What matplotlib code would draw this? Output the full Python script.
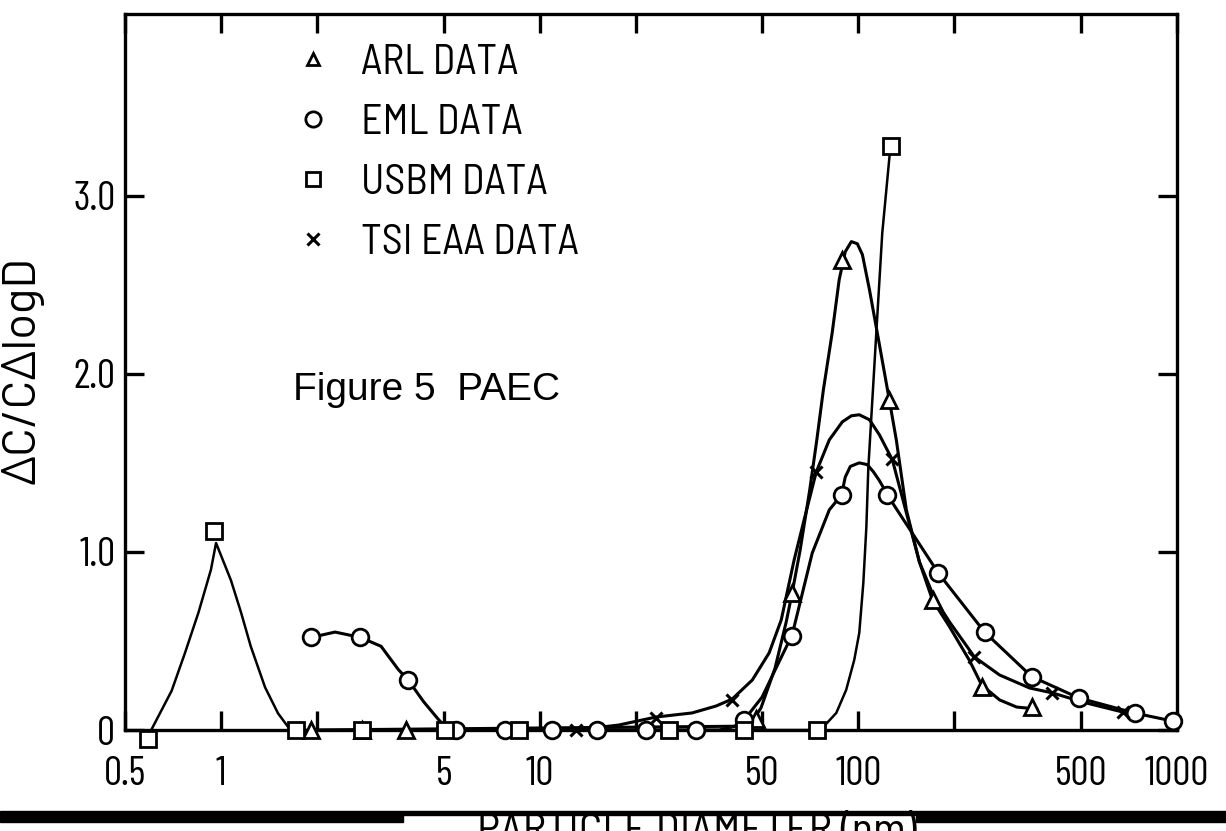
import matplotlib
matplotlib.use("Agg")
import matplotlib.pyplot as plt
from matplotlib.lines import Line2D
from matplotlib.patches import Rectangle
from matplotlib.ticker import NullFormatter

# --- measured points (particle diameter in nm, dC/C/dlogD) ---
arl_d = [1.92, 2.77, 3.8, 47.6, 62, 88.9, 125, 171, 244, 352]
arl_v = [0, 0, 0, 0.06, 0.77, 2.64, 1.85, 0.73, 0.24, 0.13]

eml_d = [1.92, 2.74, 3.87, 5.48, 7.8, 10.9, 15.1, 21.6, 31, 43.8,
         62, 88.6, 123.3, 178.5, 249, 350, 492, 738, 971]
eml_v = [0.52, 0.52, 0.28, 0, 0, 0, 0, 0, 0, 0.056,
         0.53, 1.32, 1.32, 0.88, 0.55, 0.30, 0.18, 0.095, 0.05]

usbm_d = [0.59, 0.95, 1.72, 2.77, 5.06, 8.6, 25.5, 43.8, 74, 126.2]
usbm_v = [-0.05, 1.12, 0, 0, 0, 0, 0, 0, 0, 3.28]

tsi_d = [13.0, 23.2, 40.2, 73.8, 128, 231, 405, 675]
tsi_v = [0, 0.07, 0.17, 1.45, 1.52, 0.41, 0.21, 0.10]

# --- hand-drawn curves ---
arl_curve_d = [1.92, 45.4, 49.5, 54.8, 59.4, 62.0, 65.7, 70.4, 74.1, 77.7,
               82.8, 87.1, 91.0, 95.1, 99.3, 103.0, 108.4, 116.5, 125.1,
               131.6, 141.5, 155.5, 170.9, 193.3, 223.4, 243.8, 277.6,
               314.0, 362.9]
arl_curve_v = [0, 0.022, 0.124, 0.348, 0.607, 0.770, 1.011, 1.348, 1.629,
               1.910, 2.230, 2.528, 2.685, 2.742, 2.730, 2.669, 2.472, 2.163,
               1.854, 1.629, 1.236, 0.944, 0.730, 0.58, 0.39, 0.253, 0.169,
               0.129, 0.118]

eml_curve_d = [1.92, 2.28, 2.74, 3.18, 3.6, 3.87, 4.32, 4.81, 5.17, 36.6,
               40.8, 43.8, 49.9, 55.6, 62.0, 71.7, 81.1, 88.6, 91.0, 94.4,
               100.7, 106.7, 111.5, 116.5, 121.8, 123.3, 178.5, 249, 350,
               492, 738, 971]
eml_curve_v = [0.52, 0.55, 0.52, 0.47, 0.34, 0.28, 0.16, 0.06, 0, 0,
               0.02, 0.056, 0.185, 0.36, 0.534, 0.994, 1.236, 1.32, 1.42,
               1.48, 1.50, 1.49, 1.45, 1.40, 1.34, 1.32, 0.88, 0.55, 0.30,
               0.18, 0.095, 0.05]

usbm_curve_d = [0.6, 0.70, 0.77, 0.85, 0.93, 0.965, 1.075, 1.156, 1.24,
                1.375, 1.51, 1.62, 1.72, 74, 77.1, 85.3, 91.6, 97.1, 100.7,
                103.7, 106.0, 107.5, 109.9, 113.9, 118.9, 126.2]
usbm_curve_v = [-0.01, 0.22, 0.43, 0.66, 0.90, 1.05, 0.84, 0.66, 0.47,
                0.24, 0.094, 0.02, 0, 0, 0.011, 0.096, 0.225, 0.393, 0.545,
                0.826, 1.14, 1.47, 1.76, 2.23, 2.79, 3.28]

tsi_curve_d = [13.0, 17.7, 23.2, 30.1, 35.8, 40.2, 46.5, 52.5, 57.3, 62.9,
               67.6, 73.8, 81.1, 89.1, 95.1, 100.7, 108.4, 116.5, 127.9,
               141.5, 155.5, 173.4, 193.3, 231.5, 277.6, 344.8, 407.4, 506,
               676, 765]
tsi_curve_v = [0, 0.028, 0.073, 0.096, 0.135, 0.174, 0.281, 0.433, 0.618,
               0.955, 1.18, 1.449, 1.629, 1.73, 1.764, 1.770, 1.742, 1.657,
               1.517, 1.22, 0.944, 0.74, 0.607, 0.41, 0.309, 0.236, 0.208,
               0.157, 0.101, 0.084]

x_ticks = [0.5, 1, 5, 10, 50, 100, 500, 1000]
x_tick_labels = ["0.5", "1", "5", "10", "50", "100", "500", "1000"]
x_minor_ticks = [2, 20, 200]
y_ticks = [0, 1, 2, 3]
y_tick_labels = ["0", "1.0", "2.0", "3.0"]

legend_labels = ["ARL DATA", "EML DATA", "USBM DATA", "TSI EAA DATA"]

# old typewriter-ish lettering -> condensed DIN-like face, falls back if missing
COND = ["Barlow Condensed", "Roboto Condensed", "DejaVu Sans"]
SEMI = ["Barlow Semi Condensed", "Barlow Condensed", "DejaVu Sans"]
WIDE = ["Barlow", "Barlow Semi Condensed", "DejaVu Sans"]
PLAIN = ["Liberation Sans", "DejaVu Sans"]


def main():
    plt.rcParams["font.family"] = COND

    fig = plt.figure(figsize=(12.26, 8.31), dpi=100)
    ax = fig.add_axes([0.102, 0.1215, 0.858, 0.8617])
    ax.set_xscale("log")
    ax.set_xlim(0.5, 1000)
    ax.set_ylim(0, 4.02)

    # curves
    ax.plot(arl_curve_d, arl_curve_v, color="black", linewidth=2.2)
    ax.plot(eml_curve_d, eml_curve_v, color="black", linewidth=2.2)
    ax.plot(tsi_curve_d, tsi_curve_v, color="black", linewidth=2.2)
    ax.plot(usbm_curve_d, usbm_curve_v, color="black", linewidth=1.8,
            clip_on=False)

    # markers
    mk = dict(linestyle="none", markerfacecolor="white",
              markeredgecolor="black", markeredgewidth=2, clip_on=False,
              zorder=3)
    ax.plot(arl_d, arl_v, marker="^", markersize=11, **mk)
    ax.plot(eml_d, eml_v, marker="o", markersize=12, **mk)
    ax.plot(usbm_d, usbm_v, marker="s", markersize=11, **mk)
    ax.plot(tsi_d, tsi_v, marker="x", markersize=9, color="black",
            markeredgewidth=2.2, linestyle="none", clip_on=False, zorder=3)

    # axes styling
    for sp in ax.spines.values():
        sp.set_linewidth(2.4)
    ax.set_xticks(x_ticks)
    ax.set_xticklabels(x_tick_labels)
    ax.set_xticks(x_minor_ticks, minor=True)
    ax.xaxis.set_minor_formatter(NullFormatter())
    ax.set_yticks(y_ticks)
    ax.set_yticklabels(y_tick_labels)
    ax.tick_params(axis="both", which="both", direction="in", length=14,
                   width=2.4, top=True, right=True, labelsize=29)
    ax.tick_params(axis="x", which="both", pad=19)
    ax.tick_params(axis="y", pad=7)

    ax.set_ylabel("\u0394C/C\u0394logD", fontsize=34, family=WIDE)
    ax.yaxis.set_label_coords(-0.078, 0.503)

    ax.text(0.16, 0.461, "Figure 5  PAEC", transform=ax.transAxes,
            fontsize=28, va="baseline", family=PLAIN)

    handles = [
        Line2D([], [], ls="none", marker="^", ms=9, mfc="white", mec="black", mew=2),
        Line2D([], [], ls="none", marker="o", ms=11, mfc="white", mec="black", mew=2),
        Line2D([], [], ls="none", marker="s", ms=10, mfc="white", mec="black", mew=2),
        Line2D([], [], ls="none", marker="x", ms=8, color="black", mew=2.2),
    ]
    ax.legend(handles, legend_labels, loc="upper left",
              bbox_to_anchor=(0.2455, 0.947), bbox_transform=fig.transFigure,
              frameon=False, handlelength=0.6, handletextpad=0.85,
              labelspacing=0.5, borderpad=0, borderaxespad=0,
              prop={"family": SEMI, "size": 30})

    # cut-off x label under the heavy rule at the page bottom
    fig.text(0.568, 1 - 813 / 831, "PARTICLE DIAMETER (nm)", ha="center",
             va="top", fontsize=32, family=SEMI)
    fig.add_artist(Rectangle((0, 1 - 822 / 831), 403 / 1226, 11 / 831,
                             transform=fig.transFigure, color="black"))
    fig.add_artist(Rectangle((916 / 1226, 1 - 822 / 831), 310 / 1226, 11 / 831,
                             transform=fig.transFigure, color="black"))
    fig.add_artist(Rectangle((403 / 1226, 1 - 815 / 831), 513 / 1226, 4 / 831,
                             transform=fig.transFigure, color="black"))

    fig.savefig("out.png", dpi=100)
    plt.close(fig)


if __name__ == "__main__":
    main()
